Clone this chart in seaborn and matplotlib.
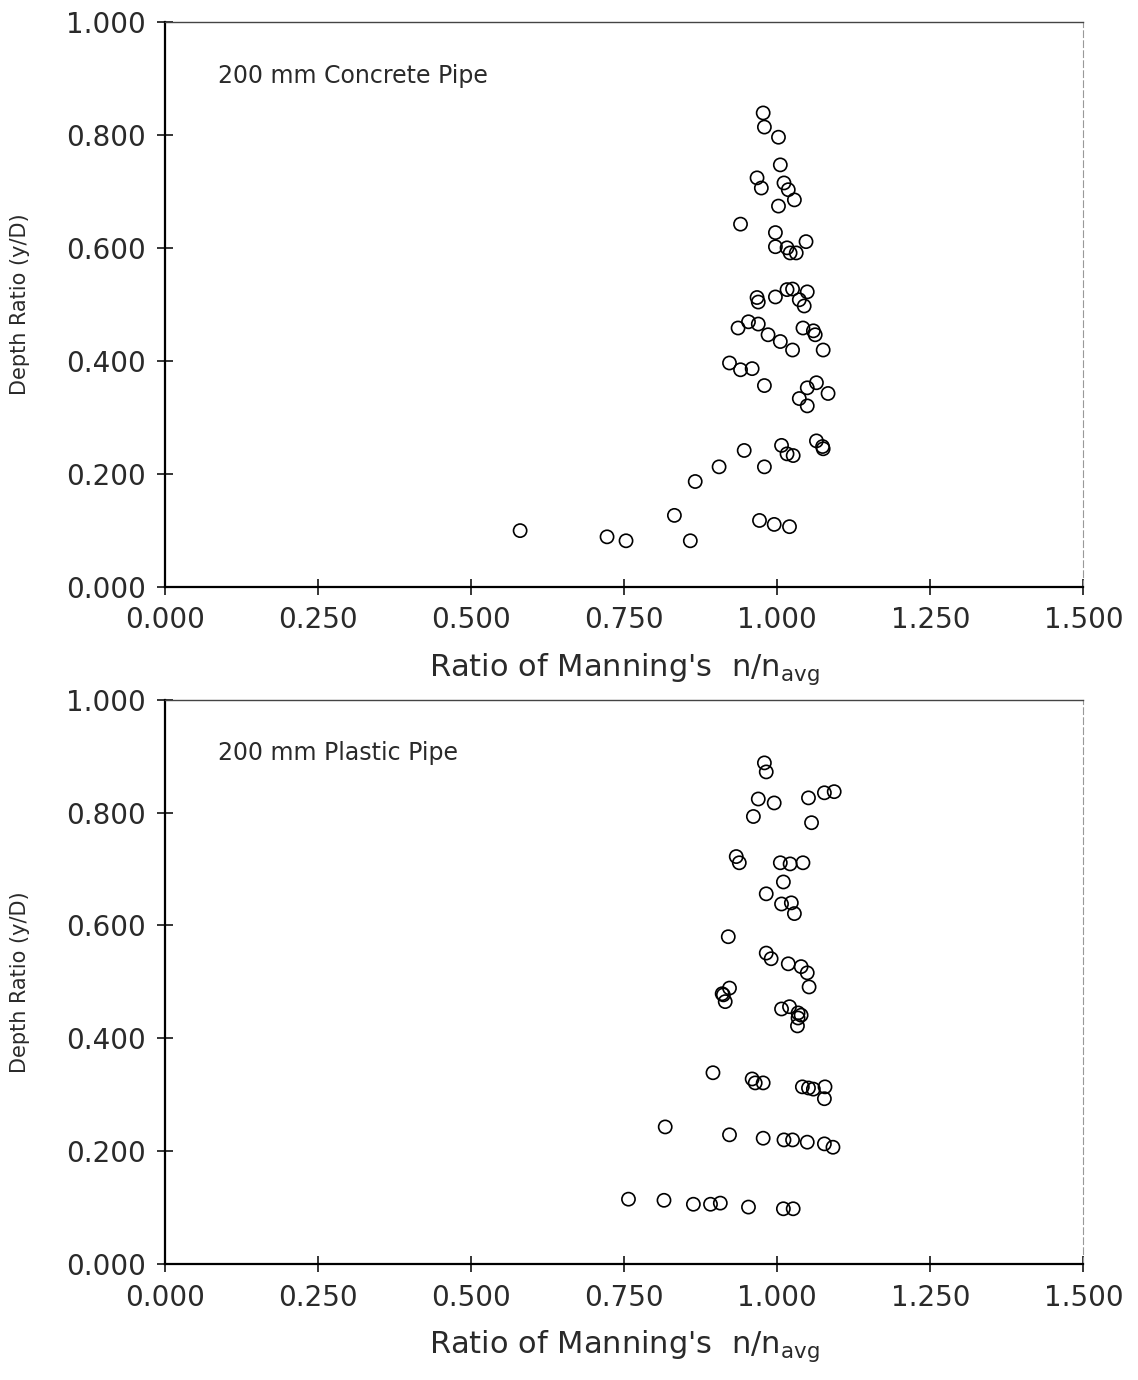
# filename: plot.py
import matplotlib
matplotlib.use('Agg')
import matplotlib.pyplot as plt
import numpy as np
import seaborn as sns

# 200 mm concrete pipe: n/n_avg vs y/D
concrete_n = [0.977, 0.979, 1.002, 1.005, 0.967, 0.974, 1.011, 1.018, 1.028, 1.002,
              0.940, 0.997, 0.997, 1.016, 1.021, 1.031, 1.047,
              0.969, 0.967, 0.997, 1.016, 1.025, 1.036, 1.049, 1.044,
              0.936, 0.953, 0.969, 0.985, 1.005, 1.025, 1.042, 1.059, 1.062, 1.075,
              0.922, 0.940, 0.959, 0.979, 1.049, 1.064, 1.083, 1.036, 1.049,
              0.946, 1.007, 1.016, 1.026, 1.064, 1.074, 1.075,
              0.905, 0.979, 0.866, 0.971, 0.995, 1.020,
              0.580, 0.722, 0.753, 0.832, 0.858]
concrete_yd = [0.839, 0.814, 0.796, 0.747, 0.724, 0.706, 0.715, 0.703, 0.685, 0.674,
               0.642, 0.627, 0.602, 0.600, 0.591, 0.591, 0.611,
               0.504, 0.512, 0.513, 0.526, 0.527, 0.508, 0.522, 0.497,
               0.458, 0.469, 0.465, 0.446, 0.434, 0.419, 0.458, 0.453, 0.446, 0.419,
               0.396, 0.384, 0.386, 0.356, 0.352, 0.361, 0.342, 0.333, 0.320,
               0.241, 0.250, 0.235, 0.232, 0.258, 0.248, 0.244,
               0.212, 0.212, 0.186, 0.117, 0.110, 0.106,
               0.099, 0.088, 0.081, 0.126, 0.081]

# 200 mm plastic pipe
plastic_n = [0.979, 0.982, 0.969, 0.995, 0.961, 1.051, 1.077, 1.093, 1.056,
             0.933, 0.938, 1.005, 1.021, 1.042, 1.010, 0.982, 1.007, 1.023, 1.028,
             0.920, 0.982, 0.990, 1.018, 1.039, 1.049, 1.052, 0.922, 0.910, 0.912, 0.915,
             1.007, 1.020, 1.034, 1.039, 1.034, 1.033,
             0.895, 0.959, 0.964, 0.977, 1.041, 1.051, 1.059, 1.078, 1.077,
             0.817, 0.922, 0.977, 1.011, 1.025, 1.049, 1.077, 1.091,
             0.757, 0.815, 0.863, 0.891, 0.907, 0.953, 1.010, 1.026]
plastic_yd = [0.888, 0.872, 0.824, 0.817, 0.793, 0.826, 0.835, 0.837, 0.782,
              0.722, 0.711, 0.711, 0.709, 0.711, 0.677, 0.656, 0.638, 0.640, 0.621,
              0.580, 0.551, 0.541, 0.532, 0.527, 0.516, 0.491, 0.489, 0.479, 0.477, 0.465,
              0.452, 0.456, 0.445, 0.441, 0.436, 0.422,
              0.339, 0.328, 0.321, 0.321, 0.314, 0.312, 0.310, 0.314, 0.293,
              0.243, 0.229, 0.223, 0.220, 0.220, 0.216, 0.213, 0.207,
              0.115, 0.113, 0.106, 0.106, 0.108, 0.101, 0.098, 0.098]

panel_titles = ['200 mm Concrete Pipe', '200 mm Plastic Pipe']
x_ticks = [0.0, 0.25, 0.5, 0.75, 1.0, 1.25, 1.5]
y_ticks = [0.0, 0.2, 0.4, 0.6, 0.8, 1.0]

sns.set_style('white')
plt.rcParams['font.family'] = ['DejaVu Sans']

fig = plt.figure(figsize=(11.38, 13.8), dpi=100)
ax_top = fig.add_axes([0.145, 0.575, 0.807, 0.409])
ax_bot = fig.add_axes([0.145, 0.084, 0.807, 0.409])

panels = [(ax_top, concrete_n, concrete_yd), (ax_bot, plastic_n, plastic_yd)]
txt = '#2a2a2a'

for i, (ax, xs, ys) in enumerate(panels):
    sns.scatterplot(x=xs, y=ys, ax=ax, s=90, facecolor='none',
                    edgecolor='black', linewidth=1.2, marker='o')
    ax.set_xlim(0, 1.5)
    ax.set_ylim(0, 1.0)
    ax.set_xticks(x_ticks)
    ax.set_yticks(y_ticks)
    ax.set_xticklabels(['%.3f' % t for t in x_ticks], fontsize=20, color=txt)
    ax.set_yticklabels(['%.3f' % t for t in y_ticks], fontsize=20, color=txt)
    ax.tick_params(direction='inout', length=12, width=1.3, left=True, bottom=True,
                   pad=8)
    for side in ['left', 'bottom']:
        ax.spines[side].set_color('black')
        ax.spines[side].set_linewidth(1.6)
    ax.spines['top'].set_color('#444444')
    ax.spines['top'].set_linewidth(1.0)
    ax.spines['right'].set_color('#999999')
    ax.spines['right'].set_linewidth(0.8)
    ax.spines['right'].set_linestyle((0, (6, 3)))
    ax.set_xlabel("Ratio of Manning's  n/n$_{\\mathregular{avg}}$", fontsize=22,
                  labelpad=12, color=txt)
    ax.set_ylabel('Depth Ratio (y/D)', fontsize=15, labelpad=26, color=txt)
    ax.text(0.058, 0.905, panel_titles[i], transform=ax.transAxes, fontsize=17,
            va='center', ha='left', color=txt)

fig.savefig('out.png', dpi=100)
